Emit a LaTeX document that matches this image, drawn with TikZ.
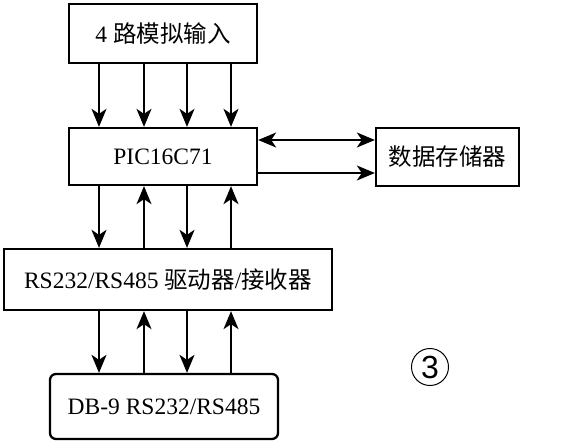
\documentclass[tikz,border=0pt]{standalone}
\usepackage{fontspec}
\setmainfont{Liberation Serif}
\newfontfamily\cjk{Noto Sans CJK SC}
\newfontfamily\circfont{Liberation Sans}
\usetikzlibrary{arrows.meta}
\begin{document}
\begin{tikzpicture}[x=1pt,y=-1pt,
  box/.style={draw, line width=2.3pt, inner sep=0pt, font=\fontsize{23.5}{25}\selectfont},
  arr/.style={line width=1.7pt, -{Stealth[length=18pt,width=15pt,inset=5pt]}},
  darr/.style={line width=1.7pt, {Stealth[length=18pt,width=15pt,inset=5pt]}-{Stealth[length=18pt,width=15pt,inset=5pt]}}]
\useasboundingbox (0,0) rectangle (567,445);
\node[box, minimum width=188pt, minimum height=59pt] (inp) at (163,33.5) {4 {\cjk 路模拟输入}};
\node[box, minimum width=188pt, minimum height=57pt] (pic) at (163,156.5) {PIC16C71};
\node[box, minimum width=143pt, minimum height=58pt] (mem) at (447.5,157) {\cjk 数据存储器};
\node[box, minimum width=328pt, minimum height=61pt] (drv) at (168,279.5) {RS232/RS485 {\cjk 驱动器}/{\cjk 接收器}};
\node[box, rounded corners=6pt, minimum width=228pt, minimum height=65pt] (db) at (164,406.5) {DB-9 RS232/RS485};
\node[draw, circle, line width=1pt, minimum size=37pt, inner sep=0pt, font=\circfont\fontsize{32}{32}\selectfont] (num) at (430,367) {3};
\coordinate (c1) at (99,0);
\coordinate (c2) at (144,0);
\coordinate (c3) at (187,0);
\coordinate (c4) at (231,0);
\coordinate (h1) at (0,140);
\coordinate (h2) at (0,173);
\foreach \c in {c1,c2,c3,c4} {
  \draw[arr] (inp.south -| \c) -- (pic.north -| \c);
}
\draw[arr] (pic.south -| c1) -- (drv.north -| c1);
\draw[arr] (drv.north -| c2) -- (pic.south -| c2);
\draw[arr] (pic.south -| c3) -- (drv.north -| c3);
\draw[arr] (drv.north -| c4) -- (pic.south -| c4);
\draw[arr] (drv.south -| c1) -- (db.north -| c1);
\draw[arr] (db.north -| c2) -- (drv.south -| c2);
\draw[arr] (drv.south -| c3) -- (db.north -| c3);
\draw[arr] (db.north -| c4) -- (drv.south -| c4);
\draw[darr] (pic.east |- h1) -- (mem.west |- h1);
\draw[arr] (pic.east |- h2) -- (mem.west |- h2);
\end{tikzpicture}
\end{document}
